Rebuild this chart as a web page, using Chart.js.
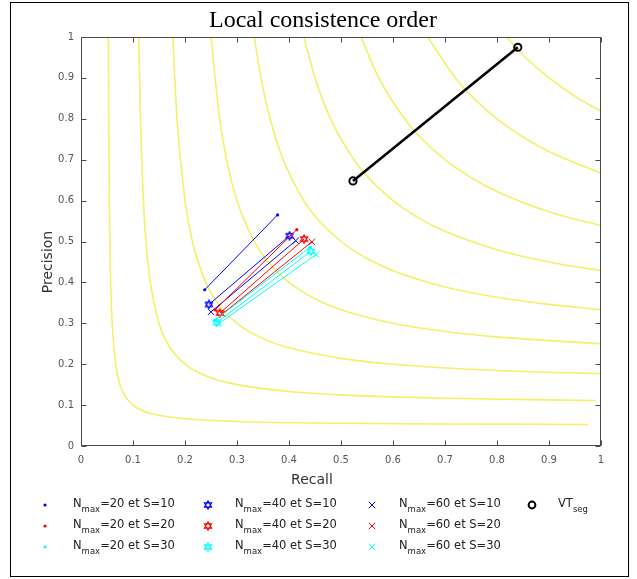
<!DOCTYPE html>
<html><head><meta charset="utf-8">
<script src="https://cdn.jsdelivr.net/npm/chart.js@4.4.1/dist/chart.umd.min.js"></script>
<style>
html,body{margin:0;padding:0;background:#fff;}
#wrap{position:relative;width:637px;height:579px;overflow:hidden;background:#fff;}
#c{position:absolute;left:0;top:0;}
.frame{position:absolute;left:10px;top:2px;width:617px;height:573px;border:1px solid #000;pointer-events:none;}
.ttl{position:absolute;left:0;width:646px;top:6px;line-height:26px;text-align:center;font-family:"Liberation Serif";font-size:24px;color:#000;}
.xlab{position:absolute;left:252px;width:120px;top:470px;line-height:18px;text-align:center;font-family:"DejaVu Sans";font-size:14px;color:#333;}
.ylab{position:absolute;left:-13px;width:120px;top:253px;height:18px;line-height:18px;text-align:center;font-family:"DejaVu Sans";font-size:14px;color:#333;transform:rotate(-90deg);transform-origin:60px 9px;}
.lg{position:absolute;font-family:"DejaVu Sans";font-size:11.5px;color:#222;line-height:16px;white-space:nowrap;}
.lg sub{font-size:8.5px;vertical-align:baseline;position:relative;top:5px;}
.mk{position:absolute;}
</style></head>
<body>
<div id="wrap">
<canvas id="c" width="637" height="579"></canvas>
<div class="frame"></div>
<div class="ttl">Local consistence order</div>
<div class="xlab">Recall</div>
<div class="ylab">Precision</div>
<div id="legend"></div>
</div>
<script>
// ---- Axis ticks ----
const xTickVals = [0,0.1,0.2,0.3,0.4,0.5,0.6,0.7,0.8,0.9,1];
const xTickLabels = ['0','0.1','0.2','0.3','0.4','0.5','0.6','0.7','0.8','0.9','1'];
const yTickVals = [0,0.1,0.2,0.3,0.4,0.5,0.6,0.7,0.8,0.9,1];
const yTickLabels = ['0','0.1','0.2','0.3','0.4','0.5','0.6','0.7','0.8','0.9','1'];

// ---- Iso F-measure curves (Recall, Precision) ----
const isoF01 = [[0.0526,1],[0.0533,0.8],[0.0545,0.6],[0.0571,0.4],[0.06,0.3],[0.0667,0.2],[0.075,0.15],[0.0857,0.12],[0.1,0.1],[0.12,0.0857],[0.15,0.075],[0.2,0.0667],[0.3,0.06],[0.5,0.0556],[0.7,0.0538],[0.975,0.0527]];
const isoF02 = [[0.1111,1],[0.1143,0.8],[0.12,0.6],[0.125,0.5],[0.1333,0.4],[0.15,0.3],[0.1667,0.25],[0.2,0.2],[0.25,0.1667],[0.3,0.15],[0.4,0.1333],[0.5,0.125],[0.7,0.1167],[0.99,0.1112]];
const isoF03 = [[0.1765,1],[0.1846,0.8],[0.2,0.6],[0.2143,0.5],[0.24,0.4],[0.2625,0.35],[0.3,0.3],[0.35,0.2625],[0.4,0.24],[0.5,0.2143],[0.6,0.2],[0.8,0.1846],[1,0.1765]];
const isoF04 = [[0.25,1],[0.2667,0.8],[0.28,0.7],[0.3,0.6],[0.3333,0.5],[0.36,0.45],[0.4,0.4],[0.45,0.36],[0.5,0.3333],[0.6,0.3],[0.7,0.28],[0.8,0.2667],[1,0.25]];
const isoF05 = [[0.3333,1],[0.3462,0.9],[0.3636,0.8],[0.3889,0.7],[0.4286,0.6],[0.4583,0.55],[0.5,0.5],[0.55,0.4583],[0.6,0.4286],[0.7,0.3889],[0.8,0.3636],[0.9,0.3462],[1,0.3333]];
const isoF06 = [[0.4286,1],[0.45,0.9],[0.48,0.8],[0.525,0.7],[0.5571,0.65],[0.6,0.6],[0.65,0.5571],[0.7,0.525],[0.8,0.48],[0.9,0.45],[1,0.4286]];
const isoF07 = [[0.5385,1],[0.5727,0.9],[0.6222,0.8],[0.6563,0.75],[0.7,0.7],[0.75,0.6563],[0.8,0.6222],[0.9,0.5727],[1,0.5385]];
const isoF08 = [[0.6667,1],[0.72,0.9],[0.7556,0.85],[0.8,0.8],[0.85,0.7556],[0.9,0.72],[1,0.6667]];
const isoF09 = [[0.8182,1],[0.855,0.95],[0.9,0.9],[0.95,0.855],[1,0.8182]];

// ---- Result series: [start, end] Recall / Precision ----
const n20s10R = [0.238, 0.378], n20s10P = [0.382, 0.565];
const n20s20R = [0.258, 0.415], n20s20P = [0.333, 0.529];
const n20s30R = [0.257, 0.440], n20s30P = [0.307, 0.486];
const n40s10R = [0.246, 0.401], n40s10P = [0.346, 0.514];
const n40s20R = [0.267, 0.429], n40s20P = [0.325, 0.506];
const n40s30R = [0.261, 0.442], n40s30P = [0.302, 0.476];
const n60s10R = [0.250, 0.413], n60s10P = [0.328, 0.502];
const n60s20R = [0.272, 0.444], n60s20P = [0.323, 0.499];
const n60s30R = [0.265, 0.452], n60s30P = [0.299, 0.468];
const vtSeqR = [0.523, 0.840], vtSeqP = [0.648, 0.975];

const seriesNames = ['Nmax=20 et S=10','Nmax=20 et S=20','Nmax=20 et S=30','Nmax=40 et S=10','Nmax=40 et S=20','Nmax=40 et S=30','Nmax=60 et S=10','Nmax=60 et S=20','Nmax=60 et S=30','VT_seq'];

const BLUE='#0000ff', RED='#ff0000', CYAN='#00ffff', YEL='#f4f068';

function hexagram(color){
  const c=document.createElement('canvas'); c.width=10; c.height=10;
  const g=c.getContext('2d'); g.strokeStyle=color; g.lineWidth=1.1;
  const cx=5, cy=5, r=4.2;
  [[-90,30,150],[90,210,330]].forEach(a=>{
    g.beginPath();
    a.forEach((d,i)=>{const t=d*Math.PI/180; const x=cx+r*Math.cos(t), y=cy+r*Math.sin(t); i?g.lineTo(x,y):g.moveTo(x,y);});
    g.closePath(); g.stroke();
  });
  return c;
}
const toPts = (R,P)=>R.map((r,i)=>({x:r,y:P[i]}));
const isoDs = pts=>({data:pts.map(p=>({x:p[0],y:p[1]})),showLine:true,borderColor:YEL,borderWidth:1.6,pointRadius:0,cubicInterpolationMode:'monotone',order:10});

function serie(R,P,color,kind,name){
  const d={label:name,data:toPts(R,P),showLine:true,borderColor:color,borderWidth:1,order:1,pointBorderColor:color,pointBackgroundColor:color};
  if(kind==='dot'){d.pointStyle='circle';d.pointRadius=1.6;d.pointBorderWidth=0;}
  else if(kind==='hex'){d.pointStyle=hexagram(color);d.pointRadius=5;}
  else if(kind==='x'){d.pointStyle='crossRot';d.pointRadius=4.5;d.pointBorderWidth=1;}
  return d;
}

const datasets=[
  isoDs(isoF01),isoDs(isoF02),isoDs(isoF03),isoDs(isoF04),isoDs(isoF05),isoDs(isoF06),isoDs(isoF07),isoDs(isoF08),isoDs(isoF09),
  serie(n20s10R,n20s10P,BLUE,'dot',seriesNames[0]),
  serie(n20s20R,n20s20P,RED,'dot',seriesNames[1]),
  serie(n20s30R,n20s30P,CYAN,'dot',seriesNames[2]),
  serie(n40s10R,n40s10P,BLUE,'hex',seriesNames[3]),
  serie(n40s20R,n40s20P,RED,'hex',seriesNames[4]),
  serie(n40s30R,n40s30P,CYAN,'hex',seriesNames[5]),
  serie(n60s10R,n60s10P,BLUE,'x',seriesNames[6]),
  serie(n60s20R,n60s20P,RED,'x',seriesNames[7]),
  serie(n60s30R,n60s30P,CYAN,'x',seriesNames[8]),
  {label:seriesNames[9],data:toPts(vtSeqR,vtSeqP),showLine:true,borderColor:'#000',borderWidth:2.6,pointStyle:'circle',pointRadius:3.6,pointBorderWidth:2,pointBorderColor:'#000',pointBackgroundColor:'rgba(255,255,255,0)',order:0}
];

const boxPlugin={id:'box',afterDraw(ch){
  const g=ch.ctx, a=ch.chartArea, xs=ch.scales.x, ys=ch.scales.y;
  g.save(); g.strokeStyle='#4a4a4a'; g.lineWidth=1;
  const L=Math.round(a.left)+0.5, R=Math.round(a.right)-0.5, T=Math.round(a.top)+0.5, B=Math.round(a.bottom)-0.5;
  g.strokeRect(L,T,R-L,B-T);
  g.beginPath();
  xTickVals.forEach(v=>{const p=Math.round(xs.getPixelForValue(v))+0.5; g.moveTo(p,B);g.lineTo(p,B-5);g.moveTo(p,T);g.lineTo(p,T+5);});
  yTickVals.forEach(v=>{const p=Math.round(ys.getPixelForValue(v))+0.5; g.moveTo(L,p);g.lineTo(L+5,p);g.moveTo(R,p);g.lineTo(R-5,p);});
  g.stroke(); g.restore();
}};

new Chart(document.getElementById('c'),{
  type:'scatter',
  data:{datasets},
  plugins:[boxPlugin],
  options:{
    responsive:false,animation:false,devicePixelRatio:1,
    layout:{padding:{left:0,right:36,top:37,bottom:103}},
    plugins:{legend:{display:false},title:{display:false},tooltip:{enabled:false}},
    scales:{
      x:{type:'linear',min:0,max:1,grid:{display:false,drawTicks:false},border:{display:false},
        afterFit(s){s.height=30;},
        afterBuildTicks(s){s.ticks=xTickVals.map(v=>({value:v}));},
        ticks:{padding:8,autoSkip:false,maxRotation:0,color:'#555',font:{family:'DejaVu Sans',size:10},callback:(v,i)=>xTickLabels[i]}},
      y:{type:'linear',min:0,max:1,grid:{display:false,drawTicks:false},border:{display:false},
        afterFit(s){s.width=81;},
        afterBuildTicks(s){s.ticks=yTickVals.map(v=>({value:v}));},
        ticks:{padding:7,autoSkip:false,color:'#555',font:{family:'DejaVu Sans',size:10},callback:(v,i)=>yTickLabels[i]}}
    }
  }
});

// ---- Legend (HTML text, markers drawn on small canvases) ----
const legendItems=[
  {col:0,row:0,color:BLUE,kind:'dot',n:'20',s:'10'},
  {col:0,row:1,color:RED,kind:'dot',n:'20',s:'20'},
  {col:0,row:2,color:CYAN,kind:'dot',n:'20',s:'30'},
  {col:1,row:0,color:BLUE,kind:'hex',n:'40',s:'10'},
  {col:1,row:1,color:RED,kind:'hex',n:'40',s:'20'},
  {col:1,row:2,color:CYAN,kind:'hex',n:'40',s:'30'},
  {col:2,row:0,color:BLUE,kind:'x',n:'60',s:'10'},
  {col:2,row:1,color:RED,kind:'x',n:'60',s:'20'},
  {col:2,row:2,color:CYAN,kind:'x',n:'60',s:'30'},
  {col:3,row:0,color:'#000',kind:'o'}
];
const colMarkX=[45,208,372,532], colTextX=[73,235,399,558], rowY=[505,526,547];
const lg=document.getElementById('legend');
legendItems.forEach(it=>{
  const c=document.createElement('canvas'); c.width=14;c.height=14;c.className='mk';
  c.style.left=(colMarkX[it.col]-7)+'px'; c.style.top=(rowY[it.row]-7)+'px';
  const g=c.getContext('2d');
  if(it.kind==='dot'){g.fillStyle=it.color;g.beginPath();g.arc(7,7,1.6,0,Math.PI*2);g.fill();}
  else if(it.kind==='hex'){g.drawImage(hexagram(it.color),2,2);}
  else if(it.kind==='x'){g.strokeStyle=it.color;g.lineWidth=1;g.beginPath();g.moveTo(3.8,3.8);g.lineTo(10.2,10.2);g.moveTo(10.2,3.8);g.lineTo(3.8,10.2);g.stroke();}
  else {g.strokeStyle='#000';g.lineWidth=2;g.beginPath();g.arc(7,7,3.4,0,Math.PI*2);g.stroke();}
  lg.appendChild(c);
  const t=document.createElement('div'); t.className='lg';
  t.style.left=colTextX[it.col]+'px'; t.style.top=(rowY[it.row]-10)+'px';
  t.innerHTML= it.kind==='o' ? 'VT<sub>seg</sub>' : 'N<sub>max</sub>=' + it.n + ' et S=' + it.s;
  lg.appendChild(t);
});
</script>
</body></html>
